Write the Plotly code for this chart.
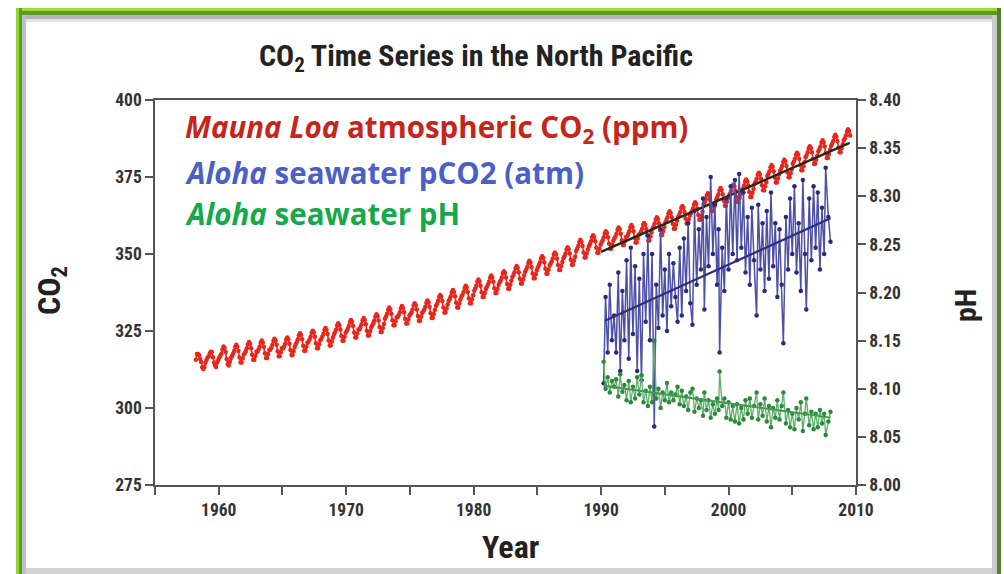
import plotly.graph_objects as go

# ---------------- data ----------------
# Mauna Loa monthly mean atmospheric CO2 (ppm), March 1958 .. July 2009
ml_start_year = 1958
ml_start_month = 3
mauna_loa_ppm = [
    315.7, 317.5, 317.5, 317.1, 315.9, 314.9, 313.2, 312.7, 313.3, 314.7,              # 1958
    315.6, 316.4, 316.7, 317.7, 318.3, 318.2, 316.5, 314.8, 313.8, 313.3, 314.8, 315.6,  # 1959
    316.4, 317.0, 317.6, 319.0, 320.0, 319.6, 318.2, 315.9, 314.2, 313.8, 315.0, 316.2,  # 1960
    316.9, 317.6, 318.5, 319.8, 320.5, 319.9, 318.5, 316.4, 314.8, 314.8, 316.1, 317.4,  # 1961
    317.8, 318.5, 319.4, 320.7, 321.4, 320.8, 319.4, 317.3, 315.7, 315.7, 317.0, 318.3,  # 1962
    318.3, 319.0, 319.9, 321.2, 321.9, 321.3, 319.9, 317.8, 316.2, 316.2, 317.5, 318.8,  # 1963
    318.9, 319.6, 320.5, 321.8, 322.5, 321.9, 320.5, 318.4, 316.8, 316.8, 318.1, 319.4,  # 1964
    319.3, 320.0, 320.9, 322.2, 322.9, 322.3, 320.9, 318.8, 317.2, 317.2, 318.5, 319.8,  # 1965
    320.7, 321.4, 322.3, 323.6, 324.3, 323.7, 322.3, 320.2, 318.6, 318.6, 319.9, 321.2,  # 1966
    321.5, 322.2, 323.1, 324.4, 325.1, 324.5, 323.1, 321.0, 319.4, 319.4, 320.7, 322.0,  # 1967
    322.4, 323.1, 324.0, 325.3, 326.0, 325.4, 324.0, 321.9, 320.3, 320.3, 321.6, 322.9,  # 1968
    323.9, 324.6, 325.5, 326.8, 327.5, 326.9, 325.5, 323.4, 321.8, 321.8, 323.1, 324.4,  # 1969
    325.0, 325.7, 326.6, 327.9, 328.6, 328.0, 326.6, 324.5, 322.9, 322.9, 324.2, 325.5,  # 1970
    325.6, 326.3, 327.2, 328.5, 329.2, 328.6, 327.2, 325.1, 323.5, 323.5, 324.8, 326.1,  # 1971
    326.8, 327.5, 328.4, 329.7, 330.4, 329.8, 328.4, 326.3, 324.7, 324.7, 326.0, 327.3,  # 1972
    329.0, 329.7, 330.6, 331.9, 332.6, 332.0, 330.6, 328.5, 326.9, 326.9, 328.2, 329.5,  # 1973
    329.5, 330.2, 331.1, 332.4, 333.1, 332.5, 331.1, 329.0, 327.4, 327.4, 328.7, 330.0,  # 1974
    330.4, 331.1, 332.0, 333.3, 334.0, 333.4, 332.0, 329.9, 328.3, 328.3, 329.6, 330.9,  # 1975
    331.3, 332.0, 332.9, 334.2, 334.9, 334.3, 332.9, 330.8, 329.2, 329.2, 330.5, 331.8,  # 1976
    333.1, 333.8, 334.7, 336.0, 336.7, 336.1, 334.7, 332.6, 331.0, 331.0, 332.3, 333.6,  # 1977
    334.7, 335.4, 336.3, 337.6, 338.3, 337.7, 336.3, 334.2, 332.6, 332.6, 333.9, 335.2,  # 1978
    336.1, 336.8, 337.7, 339.0, 339.7, 339.1, 337.7, 335.6, 334.0, 334.0, 335.3, 336.6,  # 1979
    338.1, 338.8, 339.7, 341.0, 341.7, 341.1, 339.7, 337.6, 336.0, 336.0, 337.3, 338.6,  # 1980
    339.4, 340.1, 341.0, 342.3, 343.0, 342.4, 341.0, 338.9, 337.3, 337.3, 338.6, 339.9,  # 1981
    340.8, 341.5, 342.4, 343.7, 344.4, 343.8, 342.4, 340.3, 338.7, 338.7, 340.0, 341.3,  # 1982
    342.5, 343.2, 344.1, 345.4, 346.1, 345.5, 344.1, 342.0, 340.4, 340.4, 341.7, 343.0,  # 1983
    344.2, 344.9, 345.8, 347.1, 347.8, 347.2, 345.8, 343.7, 342.1, 342.1, 343.4, 344.7,  # 1984
    345.7, 346.4, 347.3, 348.6, 349.3, 348.7, 347.3, 345.2, 343.6, 343.6, 344.9, 346.2,  # 1985
    346.9, 347.6, 348.5, 349.8, 350.5, 349.9, 348.5, 346.4, 344.8, 344.8, 346.1, 347.4,  # 1986
    348.6, 349.3, 350.2, 351.5, 352.2, 351.6, 350.2, 348.1, 346.5, 346.5, 347.8, 349.1,  # 1987
    351.0, 351.7, 352.6, 353.9, 354.6, 354.0, 352.6, 350.5, 348.9, 348.9, 350.2, 351.5,  # 1988
    352.5, 353.2, 354.1, 355.4, 356.1, 355.5, 354.1, 352.0, 350.4, 350.4, 351.7, 353.0,  # 1989
    353.8, 354.5, 355.4, 356.7, 357.4, 356.8, 355.4, 353.3, 351.7, 351.7, 353.0, 354.3,  # 1990
    355.0, 355.7, 356.6, 357.9, 358.6, 358.0, 356.6, 354.5, 352.9, 352.9, 354.2, 355.5,  # 1991
    355.8, 356.5, 357.4, 358.7, 359.4, 358.8, 357.4, 355.3, 353.7, 353.7, 355.0, 356.3,  # 1992
    356.5, 357.2, 358.1, 359.4, 360.1, 359.5, 358.1, 356.0, 354.4, 354.4, 355.7, 357.0,  # 1993
    358.3, 359.0, 359.9, 361.2, 361.9, 361.3, 359.9, 357.8, 356.2, 356.2, 357.5, 358.8,  # 1994
    360.3, 361.0, 361.9, 363.2, 363.9, 363.3, 361.9, 359.8, 358.2, 358.2, 359.5, 360.8,  # 1995
    362.0, 362.7, 363.6, 364.9, 365.6, 365.0, 363.6, 361.5, 359.9, 359.9, 361.2, 362.5,  # 1996
    363.2, 363.9, 364.8, 366.1, 366.8, 366.2, 364.8, 362.7, 361.1, 361.1, 362.4, 363.7,  # 1997
    366.1, 366.8, 367.7, 369.0, 369.7, 369.1, 367.7, 365.6, 364.0, 364.0, 365.3, 366.6,  # 1998
    367.8, 368.5, 369.4, 370.7, 371.4, 370.8, 369.4, 367.3, 365.7, 365.7, 367.0, 368.3,  # 1999
    369.0, 369.7, 370.6, 371.9, 372.6, 372.0, 370.6, 368.5, 366.9, 366.9, 368.2, 369.5,  # 2000
    370.6, 371.3, 372.2, 373.5, 374.2, 373.6, 372.2, 370.1, 368.5, 368.5, 369.8, 371.1,  # 2001
    372.8, 373.5, 374.4, 375.7, 376.4, 375.8, 374.4, 372.3, 370.7, 370.7, 372.0, 373.3,  # 2002
    375.3, 376.0, 376.9, 378.2, 378.9, 378.3, 376.9, 374.8, 373.2, 373.2, 374.5, 375.8,  # 2003
    377.0, 377.7, 378.6, 379.9, 380.6, 380.0, 378.6, 376.5, 374.9, 374.9, 376.2, 377.5,  # 2004
    379.3, 380.0, 380.9, 382.2, 382.9, 382.3, 380.9, 378.8, 377.2, 377.2, 378.5, 379.8,  # 2005
    381.4, 382.1, 383.0, 384.3, 385.0, 384.4, 383.0, 380.9, 379.3, 379.3, 380.6, 381.9,  # 2006
    383.3, 384.0, 384.9, 386.2, 386.9, 386.3, 384.9, 382.8, 381.2, 381.2, 382.5, 383.8,  # 2007
    385.1, 385.8, 386.7, 388.0, 388.7, 388.1, 386.7, 384.6, 383.0, 383.0, 384.3, 385.6,  # 2008
    386.9, 387.6, 388.5, 389.8, 390.5, 389.9, 388.5,                                     # 2009
]

# Station ALOHA cruise dates (decimal year)
aloha_year = [
    1990.20, 1990.35, 1990.52, 1990.68, 1990.85, 1991.02,
    1991.18, 1991.35, 1991.50, 1991.67, 1991.83, 1992.00,
    1992.17, 1992.33, 1992.50, 1992.67, 1992.83, 1993.00,
    1993.17, 1993.33, 1993.50, 1993.67, 1993.83, 1994.00,
    1994.17, 1994.33, 1994.50, 1994.67, 1994.83, 1995.00,
    1995.17, 1995.33, 1995.50, 1995.67, 1995.83, 1996.00,
    1996.17, 1996.33, 1996.50, 1996.67, 1996.83, 1997.00,
    1997.17, 1997.33, 1997.50, 1997.67, 1997.83, 1998.00,
    1998.10, 1998.27, 1998.43, 1998.60, 1998.77, 1998.93,
    1999.10, 1999.22, 1999.30, 1999.50, 1999.67, 1999.83,
    2000.00, 2000.17, 2000.33, 2000.50, 2000.67, 2000.83,
    2001.00, 2001.17, 2001.33, 2001.50, 2001.67, 2001.83,
    2002.00, 2002.20, 2002.33, 2002.50, 2002.67, 2002.83,
    2003.00, 2003.17, 2003.33, 2003.50, 2003.67, 2003.83,
    2004.00, 2004.17, 2004.30, 2004.50, 2004.67, 2004.83,
    2005.00, 2005.17, 2005.33, 2005.50, 2005.67, 2005.83,
    2006.00, 2006.10, 2006.33, 2006.50, 2006.67, 2006.83,
    2007.00, 2007.17, 2007.33, 2007.50, 2007.62, 2007.83,
    2008.00,
]

# Seawater pCO2 at ALOHA
aloha_pco2 = [
    308, 336, 318, 340, 322, 330,
    318, 344, 312, 338, 322, 348,
    316, 352, 324, 346, 312, 342,
    309, 350, 328, 356, 322, 350,
    294, 340, 326, 358, 330, 345,
    325, 350, 333, 347, 336, 328,
    352, 330, 355, 338, 360, 334,
    327, 364, 340, 358, 345, 368,
    332, 362, 346, 375, 350, 366,
    340, 358, 318, 352, 338, 368,
    345, 372, 350, 374, 348, 376,
    352, 370, 344, 362, 340, 365,
    348, 330, 366, 345, 360, 338,
    364, 342, 370, 346, 360, 336,
    358, 340, 321, 362, 345, 368,
    350, 372, 344, 360, 338, 374,
    350, 332, 368, 348, 372, 352,
    370, 345, 365, 350, 378, 362,
    354,
]

# Seawater pH at ALOHA
aloha_ph = [
    8.128, 8.100, 8.112, 8.096, 8.108, 8.102,
    8.110, 8.092, 8.115, 8.097, 8.104, 8.088,
    8.108, 8.086, 8.102, 8.090, 8.112, 8.094,
    8.114, 8.086, 8.098, 8.082, 8.102, 8.086,
    8.150, 8.090, 8.100, 8.080, 8.096, 8.088,
    8.106, 8.086, 8.096, 8.088, 8.094, 8.102,
    8.084, 8.098, 8.082, 8.092, 8.078, 8.096,
    8.100, 8.076, 8.090, 8.080, 8.088, 8.072,
    8.096, 8.078, 8.088, 8.070, 8.084, 8.074,
    8.090, 8.078, 8.118, 8.082, 8.090, 8.070,
    8.086, 8.068, 8.082, 8.066, 8.084, 8.064,
    8.080, 8.068, 8.088, 8.074, 8.090, 8.070,
    8.082, 8.096, 8.068, 8.084, 8.072, 8.090,
    8.066, 8.082, 8.060, 8.080, 8.070, 8.088,
    8.068, 8.082, 8.096, 8.064, 8.078, 8.060,
    8.074, 8.058, 8.080, 8.068, 8.086, 8.056,
    8.074, 8.090, 8.062, 8.076, 8.058, 8.074,
    8.060, 8.078, 8.064, 8.074, 8.052, 8.066,
    8.076,
]

# Linear trend lines (end points)
ml_trend_year = [1990.0, 2009.5]
ml_trend_ppm = [350.7, 386.1]
pco2_trend_year = [1990.3, 2008.0]
pco2_trend = [328.3, 361.6]
ph_trend_year = [1990.2, 2008.0]
ph_trend = [8.103, 8.070]

# Axis ticks
year_ticks = list(range(1955, 2011, 5))
year_labels = [str(y) if y % 10 == 0 else "" for y in year_ticks]
co2_ticks = [275, 300, 325, 350, 375, 400]
ph_ticks = [8.00, 8.05, 8.10, 8.15, 8.20, 8.25, 8.30, 8.35, 8.40]

# ---------------- geometry helpers ----------------
W, H = 1004, 574
PL, PR, PT, PB = 155, 856, 100, 485   # plot-area edges in pixels


def px(x):
    return (x - PL) / (PR - PL)


def py(y):
    return (PB - y) / (PB - PT)


# decimal year of each monthly Mauna Loa value (mid-month)
ml_year = []
for i in range(len(mauna_loa_ppm)):
    m = ml_start_month - 1 + i
    ml_year.append(ml_start_year + m // 12 + ((m % 12) + 0.5) / 12)

# ---------------- figure ----------------
fig = go.Figure()

fig.add_trace(go.Scatter(
    x=ml_year, y=mauna_loa_ppm, mode="lines+markers",
    line=dict(color="#e8261c", width=1.6),
    marker=dict(color="#e8261c", size=4.5),
    showlegend=False, hoverinfo="skip"))

fig.add_trace(go.Scatter(
    x=ml_trend_year, y=ml_trend_ppm, mode="lines",
    line=dict(color="#1e2a1e", width=2.5),
    showlegend=False, hoverinfo="skip"))

fig.add_trace(go.Scatter(
    x=aloha_year, y=aloha_ph, mode="lines+markers", yaxis="y2",
    line=dict(color="#5fae6b", width=1.3),
    marker=dict(color="#2a8a3a", size=4.5),
    showlegend=False, hoverinfo="skip"))

fig.add_trace(go.Scatter(
    x=ph_trend_year, y=ph_trend, mode="lines", yaxis="y2",
    line=dict(color="#3f9a4e", width=2),
    showlegend=False, hoverinfo="skip"))

fig.add_trace(go.Scatter(
    x=aloha_year, y=aloha_pco2, mode="lines+markers",
    line=dict(color="#4e4fa6", width=1.5),
    marker=dict(color="#2a2b7c", size=4.5),
    showlegend=False, hoverinfo="skip"))

fig.add_trace(go.Scatter(
    x=pco2_trend_year, y=pco2_trend, mode="lines",
    line=dict(color="#2e2f7c", width=2.2),
    showlegend=False, hoverinfo="skip"))

COND = "Roboto Condensed, DejaVu Sans Condensed, Liberation Sans Narrow, sans-serif"
tick_font = dict(family=COND, size=17.5, color="#333333", weight="bold")
axis_common = dict(showline=True, linecolor="#555555", linewidth=1.5,
                   ticks="outside", ticklen=8, tickwidth=1.5, tickcolor="#555555",
                   showgrid=False, zeroline=False, tickfont=tick_font)

fig.update_layout(
    width=W, height=H,
    margin=dict(l=PL, r=W - PR, t=PT, b=H - PB, pad=0),
    paper_bgcolor="white", plot_bgcolor="white",
    xaxis=dict(range=[1955, 2010], tickvals=year_ticks, ticktext=year_labels,
               mirror=True, **axis_common),
    yaxis=dict(range=[275, 400], tickvals=co2_ticks, **axis_common),
    yaxis2=dict(range=[8.0, 8.4], tickvals=ph_ticks, tickformat=".2f",
                overlaying="y", side="right", **axis_common),
)

title_font = dict(family=COND, color="#222222", weight="bold")
legend_font = "Open Sans"

annotations = [
    dict(text="CO<sub>2</sub> Time Series in the North Pacific", x=px(476), y=py(57),
         font=dict(size=30, **title_font), xanchor="center", yanchor="middle"),
    dict(text="CO<sub>2</sub>", x=px(51), y=py(290), textangle=-90,
         font=dict(size=32, **title_font), xanchor="center", yanchor="middle"),
    dict(text="pH", x=px(965), y=py(305), textangle=-90,
         font=dict(size=30, **title_font), xanchor="center", yanchor="middle"),
    dict(text="Year", x=px(510), y=py(547),
         font=dict(size=32, **title_font), xanchor="center", yanchor="middle"),
    dict(text="<i>Mauna Loa</i> atmospheric CO<sub>2</sub> (ppm)", x=px(183), y=py(128),
         font=dict(family=legend_font, size=29.5, color="#c4261b", weight="bold"),
         xanchor="left", yanchor="middle"),
    dict(text="<i>Aloha</i> seawater pCO2 (atm)", x=px(183), y=py(172),
         font=dict(family=legend_font, size=29.5, color="#4b5fc6", weight="bold"),
         xanchor="left", yanchor="middle"),
    dict(text="<i>Aloha</i> seawater pH", x=px(183), y=py(213),
         font=dict(family=legend_font, size=29.5, color="#16a84a", weight="bold"),
         xanchor="left", yanchor="middle"),
]
for a in annotations:
    a.update(xref="paper", yref="paper", showarrow=False)
fig.update_layout(annotations=annotations)

# decorative picture frame around the whole figure
frame = [
    (16, 8, 1001, 11, "#96dc3c"),
    (16, 11, 1001, 15, "#5e9a2a"),
    (22, 15, 996, 19, "#b4b4b4"),
    (22, 19, 996, 22, "#e2e2e2"),
    (16, 8, 19, 574, "#8fd63a"),
    (19, 8, 22, 574, "#5e9a2a"),
    (22, 15, 26, 574, "#c0c0c0"),
    (992, 15, 997, 574, "#c8c8c8"),
    (997, 8, 1001, 574, "#5a7f2c"),
    (26, 568, 992, 574, "#d4d4d4"),
]
shapes = []
for x0, y0, x1, y1, c in frame:
    shapes.append(dict(type="rect", xref="paper", yref="paper",
                       x0=px(x0), x1=px(x1), y0=py(y0), y1=py(y1),
                       fillcolor=c, line=dict(width=0), layer="above"))
fig.update_layout(shapes=shapes)

fig.write_html("out.html")
